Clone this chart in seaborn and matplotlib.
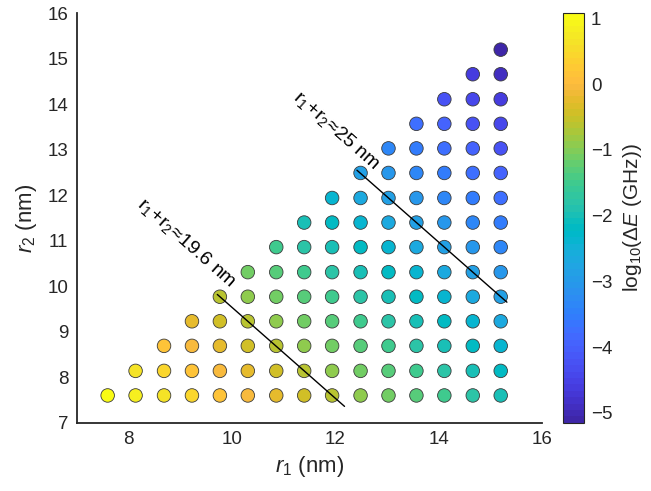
import numpy as np
import pandas as pd
import matplotlib
matplotlib.use("Agg")
import matplotlib.pyplot as plt
import seaborn as sns
from matplotlib.colors import ListedColormap, Normalize
from matplotlib.cm import ScalarMappable

# Radii of the two dots (nm), same grid for r1 and r2
r_nm = [7.6, 8.14, 8.69, 9.23, 9.77, 10.31, 10.86, 11.4, 11.94,
        12.49, 13.03, 13.57, 14.11, 14.66, 15.2]

# log10(Delta E / GHz); row k holds r2 = r_nm[k] and r1 = r_nm[k:]
logdE_r2_0 = [1.08, 0.86, 0.64, 0.42, 0.20, -0.02, -0.24, -0.46, -0.66, -0.88, -1.10, -1.32, -1.54, -1.76, -1.98]
logdE_r2_1 = [0.64, 0.42, 0.20, -0.02, -0.24, -0.46, -0.66, -0.88, -1.10, -1.32, -1.54, -1.76, -1.98, -2.20]
logdE_r2_2 = [0.20, -0.02, -0.24, -0.46, -0.66, -0.88, -1.10, -1.32, -1.54, -1.76, -1.98, -2.20, -2.42]
logdE_r2_3 = [-0.24, -0.46, -0.66, -0.88, -1.10, -1.32, -1.54, -1.76, -1.98, -2.20, -2.42, -2.64]
logdE_r2_4 = [-0.66, -0.88, -1.10, -1.32, -1.54, -1.76, -1.98, -2.20, -2.42, -2.64, -2.88]
logdE_r2_5 = [-1.10, -1.32, -1.54, -1.76, -1.98, -2.20, -2.42, -2.64, -2.88, -3.10]
logdE_r2_6 = [-1.54, -1.76, -1.98, -2.20, -2.42, -2.64, -2.88, -3.10, -3.32]
logdE_r2_7 = [-1.98, -2.20, -2.42, -2.64, -2.88, -3.10, -3.32, -3.54]
logdE_r2_8 = [-2.42, -2.64, -2.88, -3.10, -3.32, -3.54, -3.76]
logdE_r2_9 = [-2.88, -3.10, -3.32, -3.54, -3.76, -3.98]
logdE_r2_10 = [-3.32, -3.54, -3.76, -3.98, -4.22]
logdE_r2_11 = [-3.76, -3.98, -4.22, -4.44]
logdE_r2_12 = [-4.22, -4.44, -4.66]
logdE_r2_13 = [-4.66, -4.90]
logdE_r2_14 = [-5.15]

rows = [logdE_r2_0, logdE_r2_1, logdE_r2_2, logdE_r2_3, logdE_r2_4,
        logdE_r2_5, logdE_r2_6, logdE_r2_7, logdE_r2_8, logdE_r2_9,
        logdE_r2_10, logdE_r2_11, logdE_r2_12, logdE_r2_13, logdE_r2_14]

# constant r1 + r2 guide lines: (sum, r1 start, r1 end, label text, label position)
guide_sums = [19.54, 24.97]
guide_r1_start = [9.72, 12.42]
guide_r1_end = [12.18, 15.32]
guide_labels = [r"$\mathregular{r_1\!+\!r_2\!\approx\!19.6\ nm}$",
                r"$\mathregular{r_1\!+\!r_2\!\approx\!25\ nm}$"]
guide_label_xy = [(9.13, 10.95), (12.02, 13.43)]

records = []
for k, row in enumerate(rows):
    for m, v in enumerate(row):
        records.append((r_nm[k + m], r_nm[k], v))
df = pd.DataFrame(records, columns=["r1", "r2", "logdE"])

# parula-like colormap
parula_data = [
    [0.2422, 0.1504, 0.6603], [0.2504, 0.1650, 0.7076], [0.2578, 0.1818, 0.7511],
    [0.2647, 0.1978, 0.7952], [0.2706, 0.2147, 0.8364], [0.2751, 0.2342, 0.8710],
    [0.2783, 0.2559, 0.8991], [0.2803, 0.2782, 0.9221], [0.2813, 0.3006, 0.9414],
    [0.2810, 0.3228, 0.9579], [0.2795, 0.3447, 0.9717], [0.2760, 0.3667, 0.9829],
    [0.2699, 0.3892, 0.9906], [0.2602, 0.4123, 0.9952], [0.2440, 0.4358, 0.9988],
    [0.2206, 0.4603, 0.9973], [0.1963, 0.4847, 0.9892], [0.1834, 0.5074, 0.9798],
    [0.1786, 0.5289, 0.9682], [0.1764, 0.5499, 0.9520], [0.1687, 0.5703, 0.9359],
    [0.1540, 0.5902, 0.9218], [0.1460, 0.6091, 0.9079], [0.1380, 0.6276, 0.8973],
    [0.1248, 0.6459, 0.8883], [0.1113, 0.6635, 0.8763], [0.0952, 0.6798, 0.8598],
    [0.0689, 0.6948, 0.8394], [0.0297, 0.7082, 0.8163], [0.0036, 0.7203, 0.7917],
    [0.0067, 0.7312, 0.7660], [0.0433, 0.7411, 0.7394], [0.0964, 0.7500, 0.7120],
    [0.1408, 0.7584, 0.6842], [0.1717, 0.7670, 0.6554], [0.1938, 0.7758, 0.6251],
    [0.2161, 0.7843, 0.5923], [0.2470, 0.7918, 0.5567], [0.2906, 0.7973, 0.5188],
    [0.3406, 0.8008, 0.4789], [0.3909, 0.8029, 0.4354], [0.4456, 0.8024, 0.3909],
    [0.5044, 0.7993, 0.3480], [0.5616, 0.7942, 0.3045], [0.6174, 0.7876, 0.2612],
    [0.6720, 0.7793, 0.2227], [0.7242, 0.7698, 0.1910], [0.7738, 0.7598, 0.1646],
    [0.8203, 0.7498, 0.1535], [0.8634, 0.7406, 0.1596], [0.9035, 0.7330, 0.1774],
    [0.9393, 0.7288, 0.2100], [0.9728, 0.7298, 0.2394], [0.9956, 0.7434, 0.2371],
    [0.9970, 0.7659, 0.2199], [0.9952, 0.7893, 0.2028], [0.9892, 0.8136, 0.1885],
    [0.9786, 0.8386, 0.1766], [0.9676, 0.8639, 0.1643], [0.9610, 0.8890, 0.1537],
    [0.9597, 0.9135, 0.1423], [0.9628, 0.9373, 0.1265], [0.9691, 0.9606, 0.1064],
    [0.9769, 0.9839, 0.0805]]
parula = ListedColormap(parula_data, name="parula")

sns.set_style("white")
plt.rcParams["font.family"] = ["Liberation Sans", "DejaVu Sans"]
plt.rcParams["mathtext.fontset"] = "custom"
plt.rcParams["mathtext.rm"] = "Liberation Sans"
plt.rcParams["mathtext.it"] = "Liberation Sans:italic"
plt.rcParams["mathtext.sf"] = "Liberation Sans"

ink = "#262626"
norm = Normalize(vmin=df["logdE"].min(), vmax=df["logdE"].max())

fig = plt.figure(figsize=(6.51, 4.91), dpi=100)
ax = fig.add_axes([0.1177, 0.139, 0.715, 0.834])

sns.scatterplot(data=df, x="r1", y="r2", hue="logdE", palette=parula,
                hue_norm=norm, s=95, edgecolor="#3a3a3a", linewidth=0.6,
                legend=False, ax=ax, zorder=3)

# guide lines with rotated labels
for S, x0, x1, lab, (tx, ty) in zip(guide_sums, guide_r1_start, guide_r1_end,
                                    guide_labels, guide_label_xy):
    xs = np.array([x0, x1])
    ax.plot(xs, S - xs, color="black", lw=1.0, zorder=4)

ax.set_xlim(7, 16)
ax.set_ylim(7, 16)
ax.set_xticks([8, 10, 12, 14, 16])
ax.set_yticks(range(7, 17))

fig.canvas.draw()
p0 = ax.transData.transform((10, 10))
p1 = ax.transData.transform((11, 9))
angle = np.degrees(np.arctan2(p1[1] - p0[1], p1[0] - p0[0]))
for lab, (tx, ty) in zip(guide_labels, guide_label_xy):
    ax.text(tx, ty, lab, rotation=angle, rotation_mode="anchor",
            ha="center", va="center", fontsize=14, color="black", zorder=5)

for side in ["top", "right"]:
    ax.spines[side].set_visible(False)
for side in ["left", "bottom"]:
    ax.spines[side].set_color(ink)
    ax.spines[side].set_linewidth(1.3)
ax.tick_params(direction="in", length=5, width=1.0, colors=ink,
               labelsize=13.5, labelcolor=ink, pad=6)
ax.set_xlabel(r"$\it{r}_1$ (nm)", fontsize=16, color=ink, labelpad=4)
ax.set_ylabel(r"$\it{r}_2$ (nm)", fontsize=16, color=ink, labelpad=6)

cax = fig.add_axes([0.865, 0.139, 0.0323, 0.834])
cb = fig.colorbar(ScalarMappable(norm=norm, cmap=parula), cax=cax)
cb.set_ticks([-5, -4, -3, -2, -1, 0, 1])
cb.outline.set_edgecolor(ink)
cb.outline.set_linewidth(0.8)
cax.tick_params(direction="in", length=4, width=0.8, colors=ink,
                labelsize=13.5, labelcolor=ink, pad=5)
cb.set_label(r"log$_{10}$($\Delta\it{E}$ (GHz))", fontsize=15, color=ink,
             labelpad=6)

fig.savefig("out.png", dpi=100)
